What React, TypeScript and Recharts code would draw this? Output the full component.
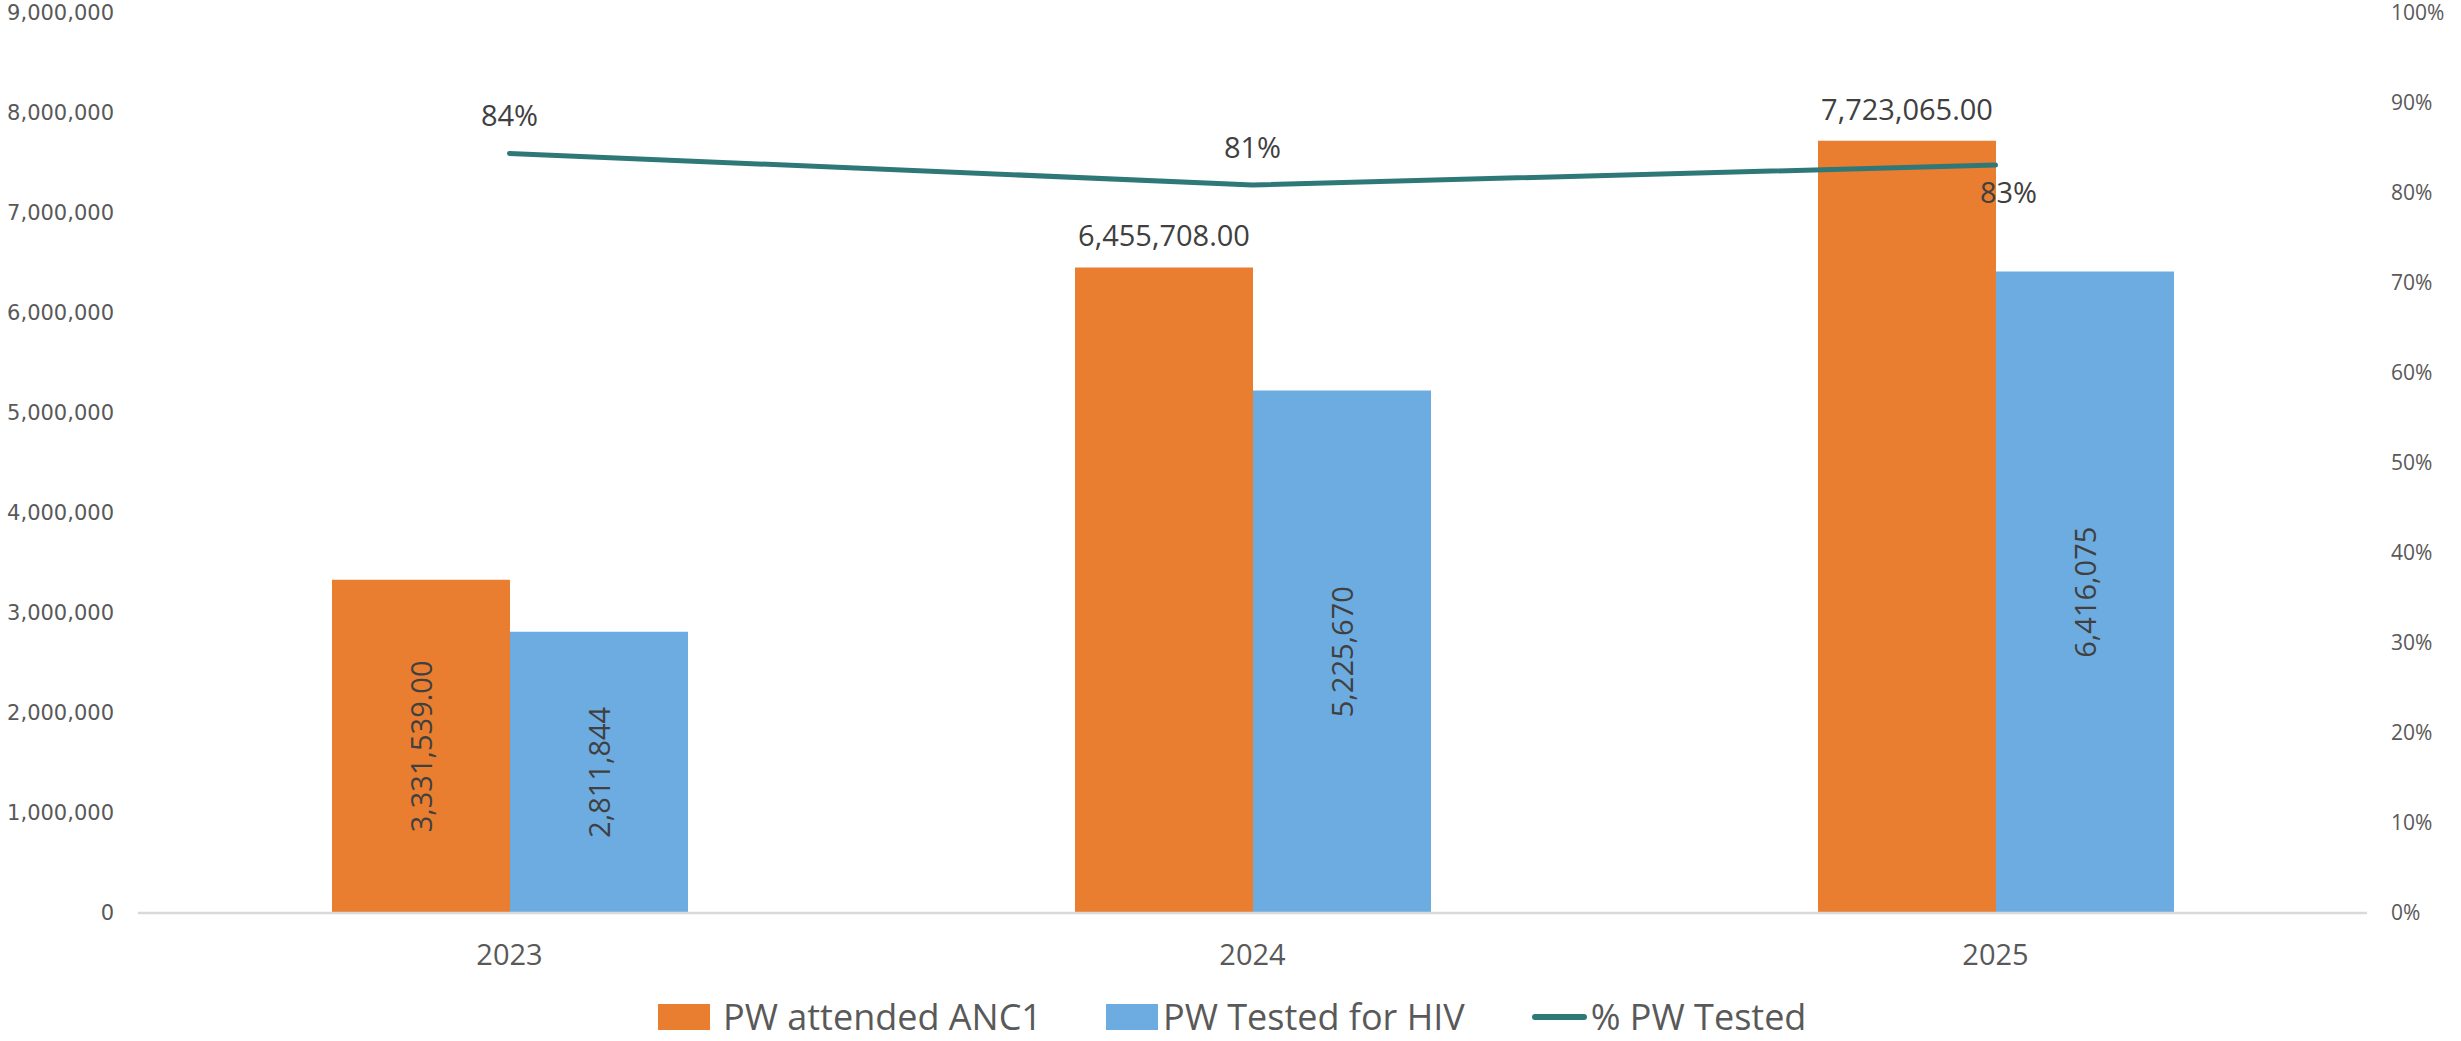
import React from "react";
import {
  ComposedChart,
  Bar,
  Line,
  XAxis,
  YAxis,
  Legend,
  LabelList,
} from "recharts";

const years = ["2023", "2024", "2025"];
const ancAttended = [3331539, 6455708, 7723065];
const hivTested = [2811844, 5225670, 6416075];
const pctTested = [84.4, 80.9, 83.1];

const leftTicks = [0, 1000000, 2000000, 3000000, 4000000, 5000000, 6000000, 7000000, 8000000, 9000000];
const rightTicks = [0, 10, 20, 30, 40, 50, 60, 70, 80, 90, 100];

const COLORS = {
  anc: "#E97E31",
  hiv: "#6DACE1",
  pct: "#2F7878",
  label: "#404040",
  tick: "#595959",
  axis: "#D9D9D9",
};

const FONT = "'Open Sans', 'Noto Sans', sans-serif";

const data = years.map((year, i) => ({
  year,
  anc: ancAttended[i],
  hiv: hivTested[i],
  pct: pctTested[i],
}));

const fmtInt = (v: number) => v.toLocaleString("en-US");
const fmtDec = (v: number) =>
  v.toLocaleString("en-US", { minimumFractionDigits: 2, maximumFractionDigits: 2 });

// label rotated and centred inside a bar
const RotatedLabel = ({ x, y, width, height, text }: any) => {
  const cx = x + width / 2;
  const cy = y + height / 2;
  return (
    <text
      x={cx}
      y={cy}
      transform={`rotate(-90 ${cx} ${cy})`}
      textAnchor="middle"
      dominantBaseline="central"
      fill={COLORS.label}
      fontSize={29}
      fontFamily={FONT}
    >
      {text}
    </text>
  );
};

const AncLabel = (props: any) => {
  const { x, y, width, height, value, index } = props;
  const text = fmtDec(Number(value));
  if (index === 0) {
    return <RotatedLabel x={x} y={y} width={width} height={height} text={text} />;
  }
  return (
    <text
      x={x + width / 2}
      y={y - 21}
      textAnchor="middle"
      fill={COLORS.label}
      fontSize={29}
      fontFamily={FONT}
    >
      {text}
    </text>
  );
};

const HivLabel = (props: any) => {
  const { x, y, width, height, value } = props;
  return <RotatedLabel x={x} y={y} width={width} height={height} text={fmtInt(Number(value))} />;
};

const PctLabel = (props: any) => {
  const { x, y, value, index } = props;
  const text = `${Math.round(Number(value))}%`;
  // last point label sits below-right of the line, like the original
  const below = index === pctTested.length - 1;
  return (
    <text
      x={below ? x + 13 : x}
      y={below ? y + 38 : y - 27}
      textAnchor="middle"
      fill={COLORS.label}
      fontSize={29}
      fontFamily={FONT}
    >
      {text}
    </text>
  );
};

const LegendContent = () => (
  <div
    style={{
      height: 60,
      display: "flex",
      alignItems: "center",
      paddingLeft: 658,
      fontFamily: FONT,
      fontSize: 36,
      color: COLORS.tick,
      lineHeight: "36px",
      boxSizing: "border-box",
      paddingTop: 12,
    }}
  >
    <span style={{ display: "inline-block", width: 52, height: 26, background: COLORS.anc, marginRight: 13 }} />
    <span style={{ marginRight: 64 }}>PW attended ANC1</span>
    <span style={{ display: "inline-block", width: 52, height: 26, background: COLORS.hiv, marginRight: 5 }} />
    <span style={{ marginRight: 67 }}>PW Tested for HIV</span>
    <span
      style={{
        display: "inline-block",
        width: 55,
        height: 6,
        borderRadius: 3,
        background: COLORS.pct,
        marginRight: 4,
      }}
    />
    <span>% PW Tested</span>
  </div>
);

export default function App() {
  return (
    <div style={{ position: "absolute", left: 0, top: 0, width: 2461, height: 1041, background: "#fff" }}>
      <ComposedChart
        width={2461}
        height={1041}
        data={data}
        margin={{ top: 13, right: 0, left: 0, bottom: 0 }}
        barGap={0}
      >
        <XAxis
          dataKey="year"
          height={68}
          tickLine={false}
          tickSize={0}
          tickMargin={31}
          axisLine={{ stroke: COLORS.axis, strokeWidth: 2.5 }}
          tick={{ fill: COLORS.tick, fontSize: 29, fontFamily: FONT }}
        />
        <YAxis
          yAxisId="left"
          width={138}
          domain={[0, 9000000]}
          ticks={leftTicks}
          tickFormatter={fmtInt}
          axisLine={false}
          tickLine={false}
          tickSize={0}
          tickMargin={24}
          tick={{ fill: COLORS.tick, fontSize: 21, fontFamily: "'DejaVu Sans', sans-serif" }}
          interval={0}
        />
        <YAxis
          yAxisId="right"
          orientation="right"
          width={94}
          domain={[0, 100]}
          ticks={rightTicks}
          tickFormatter={(v: number) => `${v}%`}
          axisLine={false}
          tickLine={false}
          tickSize={0}
          tickMargin={24}
          tick={{ fill: COLORS.tick, fontSize: 21, fontFamily: FONT, textAnchor: "start" }}
          interval={0}
        />
        <Bar
          yAxisId="left"
          dataKey="anc"
          name="PW attended ANC1"
          fill={COLORS.anc}
          barSize={178}
          isAnimationActive={false}
        >
          <LabelList dataKey="anc" content={AncLabel} />
        </Bar>
        <Bar
          yAxisId="left"
          dataKey="hiv"
          name="PW Tested for HIV"
          fill={COLORS.hiv}
          barSize={178}
          isAnimationActive={false}
        >
          <LabelList dataKey="hiv" content={HivLabel} />
        </Bar>
        <Line
          yAxisId="right"
          dataKey="pct"
          name="% PW Tested"
          type="linear"
          stroke={COLORS.pct}
          strokeWidth={5}
          strokeLinecap="round"
          dot={false}
          activeDot={false}
          isAnimationActive={false}
        >
          <LabelList dataKey="pct" content={PctLabel} />
        </Line>
        <Legend
          verticalAlign="bottom"
          content={LegendContent}
          wrapperStyle={{ left: 0, width: 2461 }}
        />
      </ComposedChart>
    </div>
  );
}
